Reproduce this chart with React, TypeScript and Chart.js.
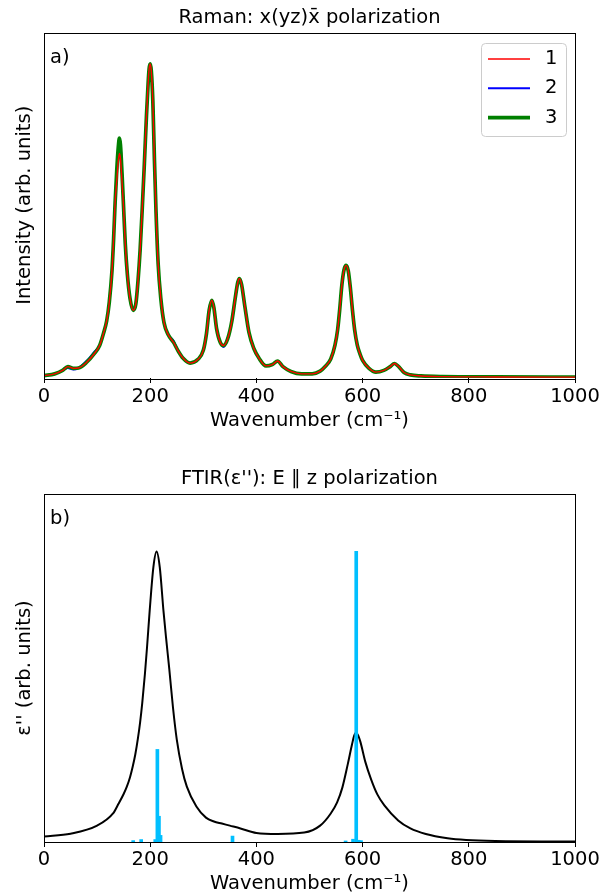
import React, { useEffect, useRef } from "react";
import { Chart, registerables } from "chart.js";

Chart.register(...registerables);

const FAMILY = "'DejaVu Sans', 'Liberation Sans', sans-serif";
const FS = 19.5;

// ---------- Panel (a): Raman ----------
const ramanWavenumbers = [0,20,35,45,55,65,80,95,105,112,118,123,128,131,134,137,140,142,144,147,150,153,157,162,168,173,177,181,185,189,193,196,198,200,202,205,208,211,215,220,226,234,244,252,262,275,290,300,306,311,316,320,325,332,338,346,354,360,365,368,372,378,386,395,405,418,430,440,450,465,485,505,520,530,540,548,553,557,561,565,569,573,577,581,585,590,595,600,612,625,640,652,660,668,678,690,710,750,850,1000];
const ramanSeries1 = [0.7,1.2,2.2,3.3,2.8,2.9,4.5,7.1,9.5,12.9,16.5,22,31,40,51,57,63,65,63.5,56.5,49,39,30,23,19.6,21.5,28,37,49,62,76,85,89.5,90.9,89,80,63,48,33,23,16,12.5,10.3,8,5.7,4.3,5.4,8,12.9,19.6,22.5,20.3,14.3,10.3,9.4,11.4,16.7,23,27.7,28.8,27.1,21,13.2,8.6,5.7,3.5,3.9,4.9,3.3,1.9,1.2,1.2,2,3.4,5.5,9.5,14,20,27,31.3,32.6,31,26,19.5,14,9.5,7,5.1,2.8,1.7,2.2,3.3,4.2,3.3,1.6,0.9,0.6,0.4,0.3,0.25];
const ramanSeries2 = [0.7,1.2,2.2,2.9,2.5,2.9,4.9,7.6,9.5,12.9,16.5,22,31,40,51,60,66,68,67.5,59,49,39,30,23,19.6,21.5,28,37,49,62,76,85,89.5,90.9,89,80,63,48,33,23,16,12.5,10.8,8,5.7,4.3,5.4,8,12.9,19.6,22.5,20.3,14.3,10.3,9.0,11.4,16.7,23,27.7,28.8,27.1,21,13.2,8.6,5.7,3.5,3.9,4.9,3.3,1.9,1.2,1.2,2,3.4,5.5,9.5,14,20,27,31.3,32.6,31,26,19.5,14,9.5,7,5.1,2.8,1.7,2.2,3.3,4.2,3.3,1.6,0.9,0.6,0.4,0.3,0.25];
const ramanSeries3 = [0.7,1.2,2.2,3.3,2.8,2.9,4.5,7.1,9.5,12.9,16.5,22,31,40,51,60,67,69.4,67.5,59,49,39,30,23,19.6,21.5,28,37,49,62,76,85,89.5,90.9,89,80,63,48,33,23,16,12.5,10.3,8,5.7,4.3,5.4,8,12.9,19.6,22.5,20.3,14.3,10.3,9.4,11.4,16.7,23,27.7,28.8,27.1,21,13.2,8.6,5.7,3.5,3.9,4.9,3.3,1.9,1.2,1.2,2,3.4,5.5,9.5,14,20,27,31.3,32.6,31,26,19.5,14,9.5,7,5.1,2.8,1.7,2.2,3.3,4.2,3.3,1.6,0.9,0.6,0.4,0.3,0.25];
const ramanLabels = ["1", "2", "3"];
const ramanColors = ["#ff0000", "#0000ff", "#008000"];
const ramanWidths = [1.4, 2.1, 3.7];
// drawing order: red on top, then green, blue underneath
const ramanOrder = [0, 2, 1];

// ---------- Panel (b): FTIR ----------
const ftirWavenumbers = [0,50,100,130,140,150,156,162,167,172,177,181,185,190,194,199,206,212,218,225,230,236,243,250,260,269,287,305,320,335,350,370,400,440,490,520,540,552,562,572,580,584,588,592,596,605,616,628,641,667,690,719,760,795,850,1000];
const ftirEpsilon = [1.6,2.4,4.7,8.2,10.9,13.8,15.9,18.6,21.6,25.2,29.9,34.4,39.9,48.2,55.9,66.4,79,83.5,79,66.4,58.5,49.6,38.5,29.5,21,15.9,10.2,7,5.9,5.3,4.7,3.9,2.6,2.3,2.7,4.7,8.2,11.4,15.7,22.3,28,30.5,31.5,30.5,28.7,23.1,18,13.6,10.5,6.2,3.9,2.3,1.1,0.6,0.3,0.15];
const modeWavenumbers = [168,183,209.5,213.5,216.5,219.5,355,568,582,588,592.5,597];
const modeStrengths = [0.4,0.7,0.7,26.6,7.4,1.9,1.7,0.3,0.8,83.5,0.5,0.4];

const xTickValues = [0, 200, 400, 600, 800, 1000];

const W = 610;
const H = 448;
const font = { family: FAMILY, size: FS, weight: "normal" as const };

const framePlugin = {
  id: "frame",
  afterDatasetsDraw(chart: any) {
    const { ctx, chartArea: a } = chart;
    ctx.save();
    ctx.strokeStyle = "#000";
    ctx.lineWidth = 1;
    ctx.strokeRect(Math.round(a.left) + 0.5, Math.round(a.top) + 0.5, Math.round(a.right - a.left), Math.round(a.bottom - a.top));
    ctx.restore();
  },
};

function panelLabelPlugin(text: string) {
  return {
    id: "panelLabel",
    afterDatasetsDraw(chart: any) {
      const { ctx, chartArea: a } = chart;
      ctx.save();
      ctx.fillStyle = "#000";
      ctx.font = `${FS}px ${FAMILY}`;
      ctx.textAlign = "left";
      ctx.textBaseline = "middle";
      ctx.fillText(text, a.left + 6, a.top + 25);
      ctx.restore();
    },
  };
}

const legendPlugin = {
  id: "customLegend",
  afterDatasetsDraw(chart: any) {
    const { ctx, chartArea: a } = chart;
    const bx = a.right - 94;
    const by = a.top + 10.5;
    const bw = 85;
    const bh = 93;
    ctx.save();
    ctx.beginPath();
    ctx.roundRect(bx + 0.5, by + 0.5, bw, bh, 4);
    ctx.fillStyle = "rgba(255,255,255,0.8)";
    ctx.fill();
    ctx.strokeStyle = "#cccccc";
    ctx.lineWidth = 1;
    ctx.stroke();
    ramanLabels.forEach((lab, i) => {
      const y = by + 16 + i * 29.3;
      ctx.beginPath();
      ctx.strokeStyle = ramanColors[i];
      ctx.lineWidth = ramanWidths[i];
      ctx.moveTo(bx + 7, y);
      ctx.lineTo(bx + 49, y);
      ctx.stroke();
      ctx.fillStyle = "#000";
      ctx.font = `${FS}px ${FAMILY}`;
      ctx.textAlign = "left";
      ctx.textBaseline = "middle";
      ctx.fillText(lab, bx + 64, y);
    });
    ctx.restore();
  },
};

function xScale(areaBottom: number, tickPad: number, xlabelPad: number) {
  return {
    type: "linear" as const,
    min: 0,
    max: 1000,
    offset: false,
    afterBuildTicks: (s: any) => {
      s.ticks = xTickValues.map((v) => ({ value: v }));
    },
    afterFit: (s: any) => {
      s.height = H - areaBottom;
    },
    ticks: { color: "#000", font, padding: tickPad, maxRotation: 0, autoSkip: false, callback: (v: any) => String(v) },
    grid: { display: true, offset: false, drawOnChartArea: false, drawTicks: true, tickLength: 5, color: "#000", lineWidth: 1 },
    border: { display: false },
    title: { display: true, text: "Wavenumber (cm⁻¹)", color: "#000", font, padding: { top: 0, bottom: xlabelPad } },
  };
}

function yScale(label: string) {
  return {
    type: "linear" as const,
    min: 0,
    max: 100,
    afterFit: (s: any) => {
      s.width = 44;
    },
    ticks: { display: false },
    grid: { display: false },
    border: { display: false },
    title: { display: true, text: label, color: "#000", font, padding: { top: 13.3, bottom: 0 } },
  };
}

function titleOpts(text: string, center: number, areaTop: number) {
  const half = (FS * 1.2) / 2;
  return {
    display: true,
    fullSize: false,
    text,
    color: "#000",
    font,
    padding: { top: center - half, bottom: areaTop - center - half },
  };
}

export default function App() {
  const ref1 = useRef<HTMLCanvasElement>(null);
  const ref2 = useRef<HTMLCanvasElement>(null);

  useEffect(() => {
    const series = [ramanSeries1, ramanSeries2, ramanSeries3];
    const c1 = new Chart(ref1.current!, {
      type: "line",
      data: {
        datasets: series.map((s, i) => ({
          label: ramanLabels[i],
          data: ramanWavenumbers.map((x, j) => ({ x, y: s[j] })),
          borderColor: ramanColors[i],
          borderWidth: ramanWidths[i],
          pointRadius: 0,
          cubicInterpolationMode: "monotone" as const,
          fill: false,
          order: ramanOrder[i],
        })),
      },
      options: {
        responsive: false,
        animation: false,
        events: [],
        layout: { padding: { left: 0, right: 35, top: 0, bottom: 0 } },
        scales: {
          x: xScale(378, 2.5, 15.3) as any,
          y: yScale("Intensity (arb. units)") as any,
        },
        plugins: {
          legend: { display: false },
          tooltip: { enabled: false },
          title: titleOpts("Raman: x(yz)x\u0304 polarization", 18, 32.5) as any,
        },
      },
      plugins: [framePlugin, panelLabelPlugin("a)"), legendPlugin],
    });

    const c2 = new Chart(ref2.current!, {
      type: "line",
      data: {
        datasets: [
          {
            type: "bar" as const,
            label: "modes",
            data: modeWavenumbers.map((x, j) => ({ x, y: modeStrengths[j] })) as any,
            backgroundColor: "#00bfff",
            borderWidth: 0,
            barThickness: 3,
            order: 0,
          },
          {
            type: "line" as const,
            label: "eps",
            data: ftirWavenumbers.map((x, j) => ({ x, y: ftirEpsilon[j] })),
            borderColor: "#000000",
            borderWidth: 2,
            pointRadius: 0,
            cubicInterpolationMode: "monotone" as const,
            fill: false,
            order: 1,
          },
        ] as any,
      },
      options: {
        responsive: false,
        animation: false,
        events: [],
        layout: { padding: { left: 0, right: 35, top: 0, bottom: 0 } },
        scales: {
          x: xScale(394, 1, 0) as any,
          y: yScale("ε'' (arb. units)") as any,
        },
        plugins: {
          legend: { display: false },
          tooltip: { enabled: false },
          title: titleOpts("FTIR(ε''): E \u2225 z polarization", 31, 46) as any,
        },
      },
      plugins: [framePlugin, panelLabelPlugin("b)")],
    });

    return () => {
      c1.destroy();
      c2.destroy();
    };
  }, []);

  return (
    <div style={{ position: "absolute", left: 0, top: 0, width: W, height: 896, background: "#fff" }}>
      <canvas ref={ref1} width={W} height={H} style={{ position: "absolute", left: 0, top: 0 }} />
      <canvas ref={ref2} width={W} height={H} style={{ position: "absolute", left: 0, top: H }} />
    </div>
  );
}
